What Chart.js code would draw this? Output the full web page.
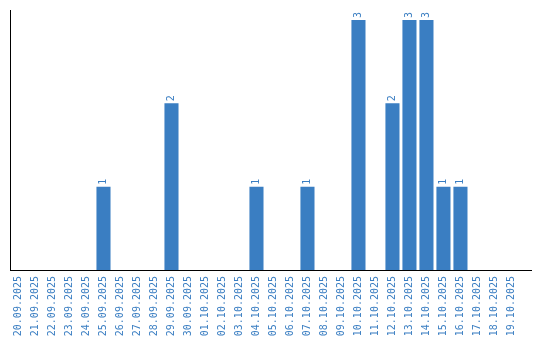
<!DOCTYPE html>
<html>
<head>
<meta charset="utf-8">
<script src="https://cdn.jsdelivr.net/npm/chart.js@4"></script>
<style>
  html, body { margin: 0; padding: 0; background: #fff; }
  #wrap { width: 540px; height: 340px; }
</style>
</head>
<body>
<div id="wrap"><canvas id="chartPorDia"></canvas></div>
<script>
const fechas = [
    "20.09.2025", "21.09.2025", "22.09.2025", "23.09.2025", "24.09.2025",
    "25.09.2025", "26.09.2025", "27.09.2025", "28.09.2025", "29.09.2025",
    "30.09.2025", "01.10.2025", "02.10.2025", "03.10.2025", "04.10.2025",
    "05.10.2025", "06.10.2025", "07.10.2025", "08.10.2025", "09.10.2025",
    "10.10.2025", "11.10.2025", "12.10.2025", "13.10.2025", "14.10.2025",
    "15.10.2025", "16.10.2025", "17.10.2025", "18.10.2025", "19.10.2025"
];
const cantidades = [
    0, 0, 0, 0, 0,
    1, 0, 0, 0, 2,
    0, 0, 0, 0, 1,
    0, 0, 1, 0, 0,
    3, 0, 2, 3, 3,
    1, 1, 0, 0, 0
];

const azul = "#3a7ec2";
const fuente = { family: "'DejaVu Sans Mono', monospace", size: 10 };

// etiquetas giradas encima de cada barra
const etiquetasBarras = {
    id: "etiquetasBarras",
    afterDatasetsDraw(chart) {
        const ctx = chart.ctx;
        const meta = chart.getDatasetMeta(0);
        ctx.save();
        ctx.fillStyle = azul;
        ctx.font = fuente.size + "px " + fuente.family;
        meta.data.forEach((bar, i) => {
            if (!cantidades[i]) return;
            ctx.save();
            ctx.translate(bar.x, bar.y - 2);
            ctx.rotate(-Math.PI / 2);
            ctx.textAlign = "left";
            ctx.textBaseline = "middle";
            ctx.fillText(String(cantidades[i]), 0, 0);
            ctx.restore();
        });
        ctx.restore();
    }
};

document.addEventListener("DOMContentLoaded", () => {
    const ctx = document.getElementById("chartPorDia");

    new Chart(ctx, {
        type: "bar",
        data: {
            datasets: [{
                data: fechas.map((f, i) => ({ x: i, y: cantidades[i] })),
                backgroundColor: azul,
                borderWidth: 0,
                barPercentage: 0.92,
                categoryPercentage: 0.9
            }]
        },
        options: {
            responsive: true,
            maintainAspectRatio: false,
            animation: false,
            layout: { padding: { top: 10, right: 9, left: 0, bottom: 0 } },
            plugins: {
                legend: { display: false },
                tooltip: { enabled: false }
            },
            scales: {
                x: {
                    type: "linear",
                    offset: false,
                    min: -0.5,
                    max: 30.15,
                    grid: { display: false, drawTicks: false },
                    border: { display: true, color: "#000", width: 1 },
                    afterBuildTicks: axis => {
                        axis.ticks = fechas.map((f, i) => ({ value: i }));
                    },
                    afterFit: axis => {
                        axis.height = 70;
                        axis.paddingLeft = 0;
                        axis.paddingRight = 0;
                    },
                    ticks: {
                        autoSkip: false,
                        minRotation: 90,
                        maxRotation: 90,
                        padding: 6,
                        color: azul,
                        font: fuente,
                        callback: v => fechas[v] ?? ""
                    }
                },
                y: {
                    min: 0,
                    max: 3.12,
                    grid: { display: false, drawTicks: false },
                    border: { display: true, color: "#000", width: 1 },
                    ticks: { display: false },
                    afterFit: axis => {
                        axis.width = 10;
                        axis.paddingTop = 0;
                        axis.paddingBottom = 0;
                    }
                }
            }
        },
        plugins: [etiquetasBarras]
    });
});
</script>
</body>
</html>
